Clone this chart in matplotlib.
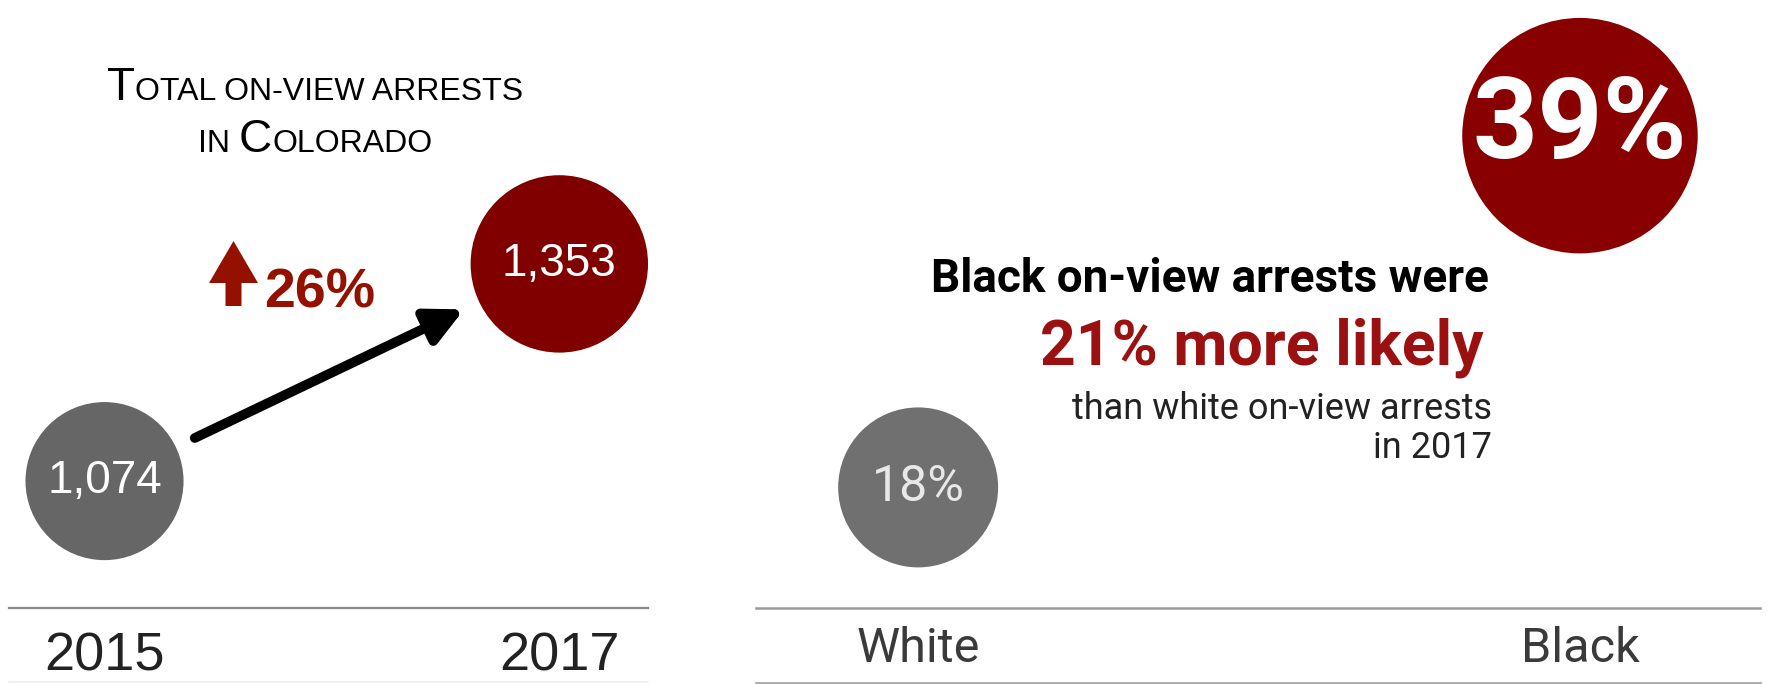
from matplotlib import pyplot as plt
import matplotlib.patches as mpatches
from matplotlib.offsetbox import TextArea, HPacker, AnnotationBbox

# data
years = ['2015', '2017']
arrests = [1074, 1353]
groups = ['White', 'Black']
shares = [18, 39]

RED_DARK = '#800000'
RED_UP = '#941100'
RED_TXT = '#9b1010'
GREY = '#666666'

change = round((arrests[1] / arrests[0] - 1) * 100)
gap = shares[1] - shares[0]

fig = plt.figure(figsize=(17.75, 6.84), dpi=100)
W, H = 1775, 684

# overlay in pixel units for titles and decorations
deco = fig.add_axes([0, 0, 1, 1])
deco.set_xlim(0, W)
deco.set_ylim(H, 0)
deco.axis('off')

# ---- left panel: total arrests ----
ax1 = fig.add_axes([9 / W, (H - 608) / H, 639 / W, 608 / H])
ax1.set_xlim(-0.21, 1.195)
ax1.set_ylim(911, 1692)
xs = range(len(years))
ax1.scatter(xs, arrests, s=[12.06 * v for v in arrests], c=[GREY, RED_DARK],
            linewidths=0, zorder=3, clip_on=False)
for i, v in enumerate(arrests):
    ax1.text(i, v, f'{v:,}', ha='center', va='center', color='white',
             fontsize=33, family='Liberation Sans', zorder=4)
ax1.annotate('', xy=(1, arrests[1]), xytext=(0, arrests[0]),
             arrowprops=dict(arrowstyle='-|>,head_length=22,head_width=11',
                             mutation_scale=1, color='black', lw=7,
                             shrinkA=72, shrinkB=76))
for s in ['top', 'left', 'right']:
    ax1.spines[s].set_visible(False)
ax1.spines['bottom'].set_color('#888888')
ax1.spines['bottom'].set_linewidth(1.6)
ax1.set_yticks([])
ax1.set_xticks(list(xs), years)
ax1.tick_params(axis='x', length=0, pad=17, labelsize=39, labelcolor='#222222')
for lab in ax1.get_xticklabels():
    lab.set_family('Liberation Sans')
ax1.patch.set_alpha(0)

# small-caps title
def small_caps(parts, big=33, small=23):
    boxes = []
    for txt, is_big in parts:
        boxes.append(TextArea(txt, textprops=dict(fontsize=big if is_big else small,
                                                  family='Liberation Sans', color='black')))
    return HPacker(children=boxes, align='baseline', pad=0, sep=0)

line1 = small_caps([('T', True), ('OTAL ON-VIEW ARRESTS', False)])
line2 = small_caps([('IN ', False), ('C', True), ('OLORADO', False)])
deco.add_artist(AnnotationBbox(line1, (315, 88), xycoords='data', frameon=False,
                               box_alignment=(0.5, 0.5)))
deco.add_artist(AnnotationBbox(line2, (315, 140), xycoords='data', frameon=False,
                               box_alignment=(0.5, 0.5)))

# up arrow icon + change
deco.add_patch(mpatches.FancyArrow(233.5, 306, 0, -65, width=16, head_width=49,
                                   head_length=42, length_includes_head=True,
                                   color=RED_UP, linewidth=0))
deco.text(264, 308, f'{change}%', fontsize=40, fontweight='bold', color=RED_UP,
          family='Liberation Sans', va='baseline', ha='left')
deco.plot([9, 648], [682, 682], color='#eeeeee', lw=1.2)

# ---- right panel: share by race ----
ax2 = fig.add_axes([756 / W, (H - 608) / H, 1004 / W, 608 / H])
ax2.set_xlim(-0.245, 1.272)
ax2.set_ylim(10.8, 47.1)
xs2 = range(len(groups))
ax2.scatter(xs2, shares, s=[737 * v for v in shares], c=['#707070', '#880000'],
            linewidths=0, zorder=3, clip_on=False)
ax2.text(0, shares[0], f'{shares[0]}%', ha='center', va='center', color='#e8e8e8',
         fontsize=36, family='Roboto', zorder=4)
ax2.text(1, shares[1] + 0.5, f'{shares[1]}%', ha='center', va='center', color='white',
         fontsize=82, family='Roboto', fontweight='bold', zorder=4)
for s in ['top', 'left', 'right']:
    ax2.spines[s].set_visible(False)
ax2.spines['bottom'].set_color('#999999')
ax2.spines['bottom'].set_linewidth(1.8)
ax2.set_yticks([])
ax2.set_xticks(list(xs2), groups)
ax2.tick_params(axis='x', length=0, pad=13, labelsize=35, labelcolor='#3a3a3a')
for lab in ax2.get_xticklabels():
    lab.set_family('Roboto')
ax2.patch.set_alpha(0)

deco.text(1489, 292, 'Black on-view arrests were', ha='right', va='baseline',
          fontsize=33, fontweight='bold', color='black', family='Roboto')
deco.text(1483, 365, f'{gap}% more likely', ha='right', va='baseline',
          fontsize=45, fontweight='bold', color=RED_TXT, family='Roboto')
deco.text(1492, 419, 'than white on-view arrests', ha='right', va='baseline',
          fontsize=26, color='#222222', family='Roboto')
deco.text(1492, 458, 'in 2017', ha='right', va='baseline',
          fontsize=26, color='#222222', family='Roboto')
deco.plot([756, 1760], [683, 683], color='#aaaaaa', lw=2)

fig.savefig('out.png', dpi=100)
